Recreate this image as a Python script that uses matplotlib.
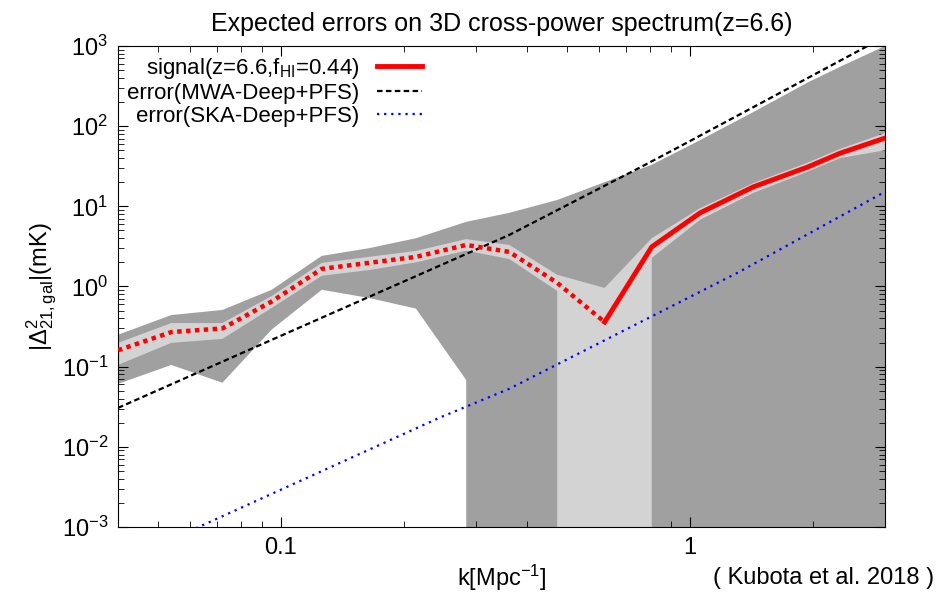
import matplotlib
matplotlib.use("Agg")
import matplotlib.pyplot as plt
from matplotlib.ticker import FuncFormatter, NullFormatter, LogLocator

# signal
k = [0.040, 0.054, 0.072, 0.095, 0.126, 0.164, 0.214, 0.284, 0.362,
     0.474, 0.619, 0.807, 1.06, 1.43, 1.94, 2.33, 3.0]
signal = [0.16, 0.27, 0.30, 0.65, 1.66, 1.97, 2.34, 3.3, 2.7,
          1.11, 0.36, 3.12, 8.3, 17.5, 30.9, 46, 71]
n_dotted = 11  # first points drawn dotted

# MWA error band around signal (dark grey)
k_mwa = [0.040, 0.054, 0.072, 0.095, 0.126, 0.164, 0.214, 0.284, 0.284,
         0.362, 0.474, 0.619, 0.807, 1.06, 1.43, 1.94, 2.33, 3.0]
mwa_hi = [0.25, 0.44, 0.51, 0.91, 2.41, 3.0, 4.0, 6.4, 6.4,
          8.3, 12.0, 20, 33, 67, 150, 350, 550, 1000]
mwa_lo = [0.061, 0.105, 0.063, 0.29, 0.91, 0.72, 0.53, 0.068, 1e-6,
          1e-6, 1e-6, 1e-6, 1e-6, 1e-6, 1e-6, 1e-6, 1e-6, 1e-6]

# SKA error band around signal (light grey)
k_ska = [0.040, 0.054, 0.072, 0.095, 0.126, 0.164, 0.214, 0.284, 0.362,
         0.474, 0.474, 0.619, 0.807, 0.807, 1.06, 1.43, 1.94, 2.33, 3.0]
ska_hi = [0.198, 0.35, 0.35, 0.76, 1.97, 2.34, 2.78, 3.9, 3.3,
          1.40, 1.40, 0.96, 4.0, 4.0, 9.5, 19.5, 35, 52, 82]
ska_lo = [0.105, 0.198, 0.222, 0.54, 1.36, 1.6, 2.0, 2.8, 2.2,
          0.88, 1e-6, 1e-6, 1e-6, 2.27, 6.8, 14.7, 27, 40, 50]

# error curves
k_mwa_err = [0.04, 0.095, 0.362, 0.76, 0.908, 2.72]
mwa_err = [0.0306, 0.216, 4.4, 31, 50, 1000]
k_ska_err = [0.04, 0.063, 0.244, 0.362, 1.32, 3.0]
ska_err = [3.5e-4, 1e-3, 0.023, 0.053, 1.52, 15.2]

plt.rcParams.update({
    "font.family": ["Liberation Sans", "DejaVu Sans"],
    "mathtext.fontset": "custom",
    "mathtext.rm": "Liberation Sans",
    "mathtext.it": "Liberation Sans:italic",
    "font.size": 16,
})

fig = plt.figure(figsize=(9.38, 5.95), dpi=100)
ax = fig.add_axes([0.1258, 0.1143, 0.8177, 0.8084])

ax.fill_between(k_mwa, mwa_lo, mwa_hi, color="#a0a0a0", lw=0, zorder=1)
ax.fill_between(k_ska, ska_lo, ska_hi, color="#d3d3d3", lw=0, zorder=2)

ax.plot(k[:n_dotted], signal[:n_dotted], color="red", lw=3.2,
        dashes=(1, 1), dash_capstyle="butt", zorder=5)
ax.plot(k[n_dotted - 1:], signal[n_dotted - 1:], color="red", lw=3.5,
        zorder=5, label=r"signal(z=6.6,f$_{\mathrm{HI}}$=0.44)")
ax.plot(k_mwa_err, mwa_err, color="black", lw=1.6, dashes=(2.5, 1.5),
        zorder=4, label="error(MWA-Deep+PFS)")
ax.plot(k_ska_err, ska_err, color="blue", lw=1.6, dashes=(1, 2.2),
        zorder=4, label="error(SKA-Deep+PFS)")

ax.set_xscale("log")
ax.set_yscale("log")
ax.set_xlim(0.04, 3.0)
ax.set_ylim(1e-3, 1e3)

ax.xaxis.set_major_formatter(FuncFormatter(lambda v, p: "%g" % v))
ax.xaxis.set_minor_formatter(NullFormatter())
ax.yaxis.set_minor_locator(LogLocator(base=10, subs=range(2, 10), numticks=100))
ax.yaxis.set_minor_formatter(NullFormatter())
ax.tick_params(which="both", direction="in", top=True, right=True)
ax.tick_params(which="major", length=7, labelsize=17, pad=7)
ax.tick_params(which="minor", length=4)

ax.set_title("Expected errors on 3D cross-power spectrum(z=6.6)",
             fontsize=18, pad=11)
ax.set_xlabel(r"k[Mpc$^{-1}$]", fontsize=17, labelpad=3)
ax.set_ylabel(r"$|\Delta^{2}_{21,\mathrm{gal}}|$(mK)", fontsize=17, labelpad=2)

ax.legend(loc="upper left", bbox_to_anchor=(0.012, 0.98), frameon=False,
          markerfirst=False, fontsize=16, handlelength=2.0,
          labelspacing=0.1, borderaxespad=0, borderpad=0, handletextpad=0.8)

fig.text(824 / 938, 1 - 578 / 595, "( Kubota et al. 2018 )", fontsize=17,
         ha="center", va="center")

plt.savefig("out.png", dpi=100)
